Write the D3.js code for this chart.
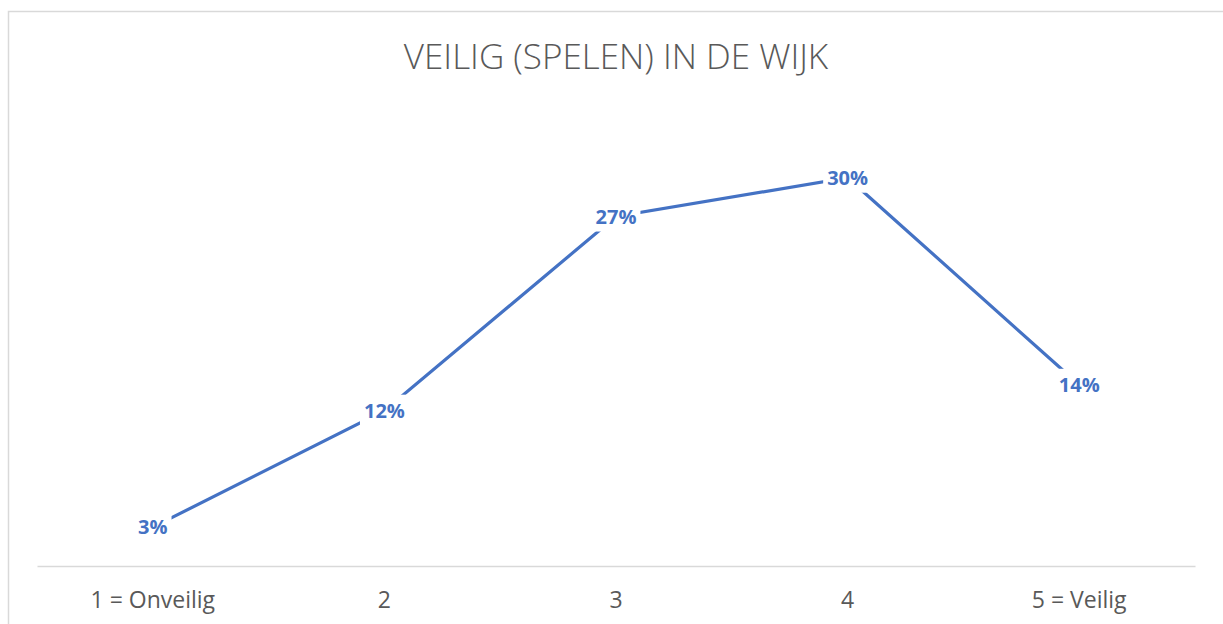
<!DOCTYPE html>
<html>
<head>
<meta charset="utf-8">
<script src="https://cdn.jsdelivr.net/npm/d3@7"></script>
<style>
  body { margin: 0; background: #fff; }
  svg { display: block; }
</style>
</head>
<body>
<div id="chart"></div>
<script>
'use strict';

const title = 'VEILIG (SPELEN) IN DE WIJK';
const categories = ['1 = Onveilig', '2', '3', '4', '5 = Veilig'];
const values = [3, 12, 27, 30, 14];

const W = 1223, H = 624;
const margin = { top: 113, right: 28, bottom: 58, left: 37 };
const width = W - margin.left - margin.right,
      height = H - margin.top - margin.bottom;

const svg = d3.select('#chart').append('svg')
    .attr('width', W)
    .attr('height', H);

// chart frame
svg.append('rect')
    .attr('x', 8.5).attr('y', 11.5)
    .attr('width', W + 20).attr('height', H + 20)
    .attr('fill', 'none')
    .attr('stroke', '#d9d9d9')
    .attr('stroke-width', 1.5);

svg.append('text')
    .attr('x', 616).attr('y', 69)
    .attr('text-anchor', 'middle')
    .style('font-family', '"Open Sans", sans-serif')
    .style('font-weight', 300)
    .style('font-size', '35px')
    .style('fill', '#595959')
    .text(title);

const g = svg.append('g')
    .attr('transform', `translate(${margin.left}, ${margin.top})`);

const x = d3.scaleBand()
    .domain(categories)
    .range([0, width]);

const y = d3.scaleLinear()
    .domain([0, 35])
    .range([height, 0]);

const xAxis = d3.axisBottom(x).tickSize(0).tickPadding(26);

const ax = g.append('g')
    .attr('transform', `translate(0, ${height})`)
    .call(xAxis);
ax.select('.domain').attr('stroke', '#d9d9d9').attr('stroke-width', 1.5);
ax.selectAll('text')
    .style('font-family', '"Open Sans", sans-serif')
    .style('font-size', '23px')
    .style('fill', '#595959');

const cx = d => x(d) + x.bandwidth() / 2;

const line = d3.line()
    .x((d, i) => cx(categories[i]))
    .y(d => y(d));

g.append('path')
    .datum(values)
    .attr('fill', 'none')
    .attr('stroke', '#4472c4')
    .attr('stroke-width', 3.2)
    .attr('d', line);

const labels = g.selectAll('.label')
    .data(values)
  .enter().append('g')
    .attr('class', 'label')
    .attr('transform', (d, i) => `translate(${cx(categories[i])}, ${y(d)})`);

labels.append('rect');
labels.append('text')
    .attr('text-anchor', 'middle')
    .attr('dy', '0.35em')
    .style('font-family', '"Open Sans", sans-serif')
    .style('font-weight', 700)
    .style('font-size', '20px')
    .style('fill', '#4472c4')
    .text(d => d + '%');

labels.each(function() {
  const sel = d3.select(this);
  const bb = sel.select('text').node().getBBox();
  sel.select('rect')
      .attr('x', bb.x - 4).attr('y', bb.y - 2)
      .attr('width', bb.width + 8).attr('height', bb.height + 4)
      .attr('fill', '#fff');
});
</script>
</body>
</html>
